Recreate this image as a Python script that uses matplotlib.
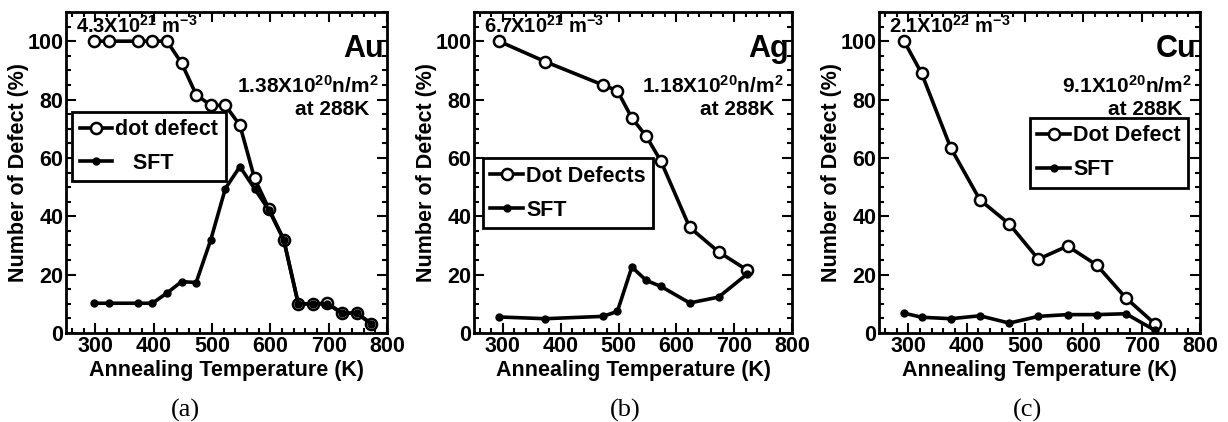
import matplotlib
matplotlib.use("Agg")
import matplotlib.pyplot as plt
from matplotlib.ticker import MultipleLocator

plt.rcParams['font.family'] = ['Liberation Sans', 'DejaVu Sans']
plt.rcParams['font.weight'] = 'bold'
plt.rcParams['mathtext.fontset'] = 'custom'
plt.rcParams['mathtext.rm'] = 'Liberation Sans:bold'
plt.rcParams['mathtext.bf'] = 'Liberation Sans:bold'
plt.rcParams['mathtext.default'] = 'bf'

# ---- data ----
au_T = [298, 323, 373, 398, 423, 448, 473, 498, 523, 548, 573, 598, 623, 648, 673, 698, 723, 748, 773]
au_dot = [100, 100, 100, 100, 100, 92.5, 81.7, 78, 78, 71.2, 53, 42.4, 32, 10, 10, 10.2, 6.8, 6.8, 3.2]
au_sft = [10.2, 10.2, 10.2, 10.2, 13.7, 17.6, 17.3, 31.9, 49.5, 57, 49.5, 42, 32, 10, 10, 10, 6.8, 6.8, 3.2]

ag_T = [293, 373, 473, 498, 523, 548, 573, 623, 673, 723]
ag_dot = [100, 93, 85, 83, 73.7, 67.4, 59, 36.2, 27.8, 21.5]
ag_sft = [5.5, 4.9, 5.7, 7.4, 22.6, 18, 16, 10.3, 12.3, 20.3]

cu_T = [293, 323, 373, 423, 473, 523, 573, 623, 673, 723]
cu_dot = [100, 89, 63.4, 45.6, 37.4, 25.3, 29.8, 23.3, 12, 3.1]
cu_sft = [6.8, 5.4, 4.9, 5.9, 3.4, 5.7, 6.3, 6.3, 6.6, 0.9]

elements = ["Au", "Ag", "Cu"]
densities = ["4.3X10$^{21}$ m$^{-3}$", "6.7X10$^{21}$ m$^{-3}$", "2.1X10$^{22}$ m$^{-3}$"]
fluences = ["1.38X10$^{20}$n/m$^{2}$", "1.18X10$^{20}$n/m$^{2}$", "9.1X10$^{20}$n/m$^{2}$"]
dot_labels = ["dot defect", "Dot Defects", "Dot Defect"]
sft_labels = ["   SFT", "SFT", "SFT"]
panel_labels = ["(a)", "(b)", "(c)"]

W, H = 1228, 422
fig = plt.figure(figsize=(W / 100, H / 100), dpi=100)

boxes = [(66, 387), (474, 792), (879, 1200)]
top_px, bot_px = 12, 333
legend_pos = [("upper left", (0.019, 0.69)), ("upper left", (0.028, 0.545)), ("upper right", (0.963, 0.67))]
label_x = [185, 625, 1028]

series = [(au_T, au_dot, au_sft), (ag_T, ag_dot, ag_sft), (cu_T, cu_dot, cu_sft)]

fs = 15.5
for i, ((l, r), (T, dot, sft)) in enumerate(zip(boxes, series)):
    ax = fig.add_axes([l / W, 1 - bot_px / H, (r - l) / W, (bot_px - top_px) / H])
    ax.plot(T, dot, '-o', color='black', lw=2.6, ms=8, mfc='white', mec='black', mew=1.8, label=dot_labels[i], zorder=3)
    ax.plot(T, sft, '-o', color='black', lw=2.6, ms=5, mfc='black', mec='black', label=sft_labels[i], zorder=4)
    ax.set_xlim(250, 800)
    ax.set_ylim(0, 110)
    ax.xaxis.set_major_locator(MultipleLocator(100))
    ax.xaxis.set_minor_locator(MultipleLocator(20))
    ax.yaxis.set_major_locator(MultipleLocator(20))
    ax.yaxis.set_minor_locator(MultipleLocator(5))
    ax.tick_params(which='both', direction='in', top=True, right=True, width=1.5, labelsize=fs, pad=2)
    ax.tick_params(which='major', length=7)
    ax.tick_params(which='minor', length=3.5)
    for s in ax.spines.values():
        s.set_linewidth(2)
    for lab in ax.get_xticklabels() + ax.get_yticklabels():
        lab.set_fontweight('bold')
    ax.set_xlabel("Annealing Temperature (K)", fontsize=fs, fontweight='bold', labelpad=2)
    ax.set_ylabel("Number of Defect (%)", fontsize=fs, fontweight='bold', labelpad=-1)
    ax.text(0.03, 0.935, densities[i], transform=ax.transAxes, ha='left', va='baseline', fontsize=14.5, fontweight='bold')
    ax.text(0.99, 0.885, elements[i], transform=ax.transAxes, ha='right', va='center', fontsize=22, fontweight='bold')
    ax.text(0.975, 0.77, fluences[i], transform=ax.transAxes, ha='right', va='center', fontsize=15, fontweight='bold')
    ax.text(0.945, 0.695, "at 288K", transform=ax.transAxes, ha='right', va='center', fontsize=15, fontweight='bold')
    loc, anchor = legend_pos[i]
    leg = ax.legend(loc=loc, bbox_to_anchor=anchor, borderaxespad=0, fancybox=False, framealpha=1,
                    edgecolor='black', handlelength=1.5, handletextpad=0.15,
                    borderpad=0.35, labelspacing=0.6, prop={'weight': 'bold', 'size': fs})
    leg.get_frame().set_linewidth(2)
    fig.text(label_x[i] / W, 1 - 410 / H, panel_labels[i], ha='center', va='center',
             fontsize=19, family='Liberation Serif', fontweight='normal')

fig.savefig("out.png", dpi=100)
